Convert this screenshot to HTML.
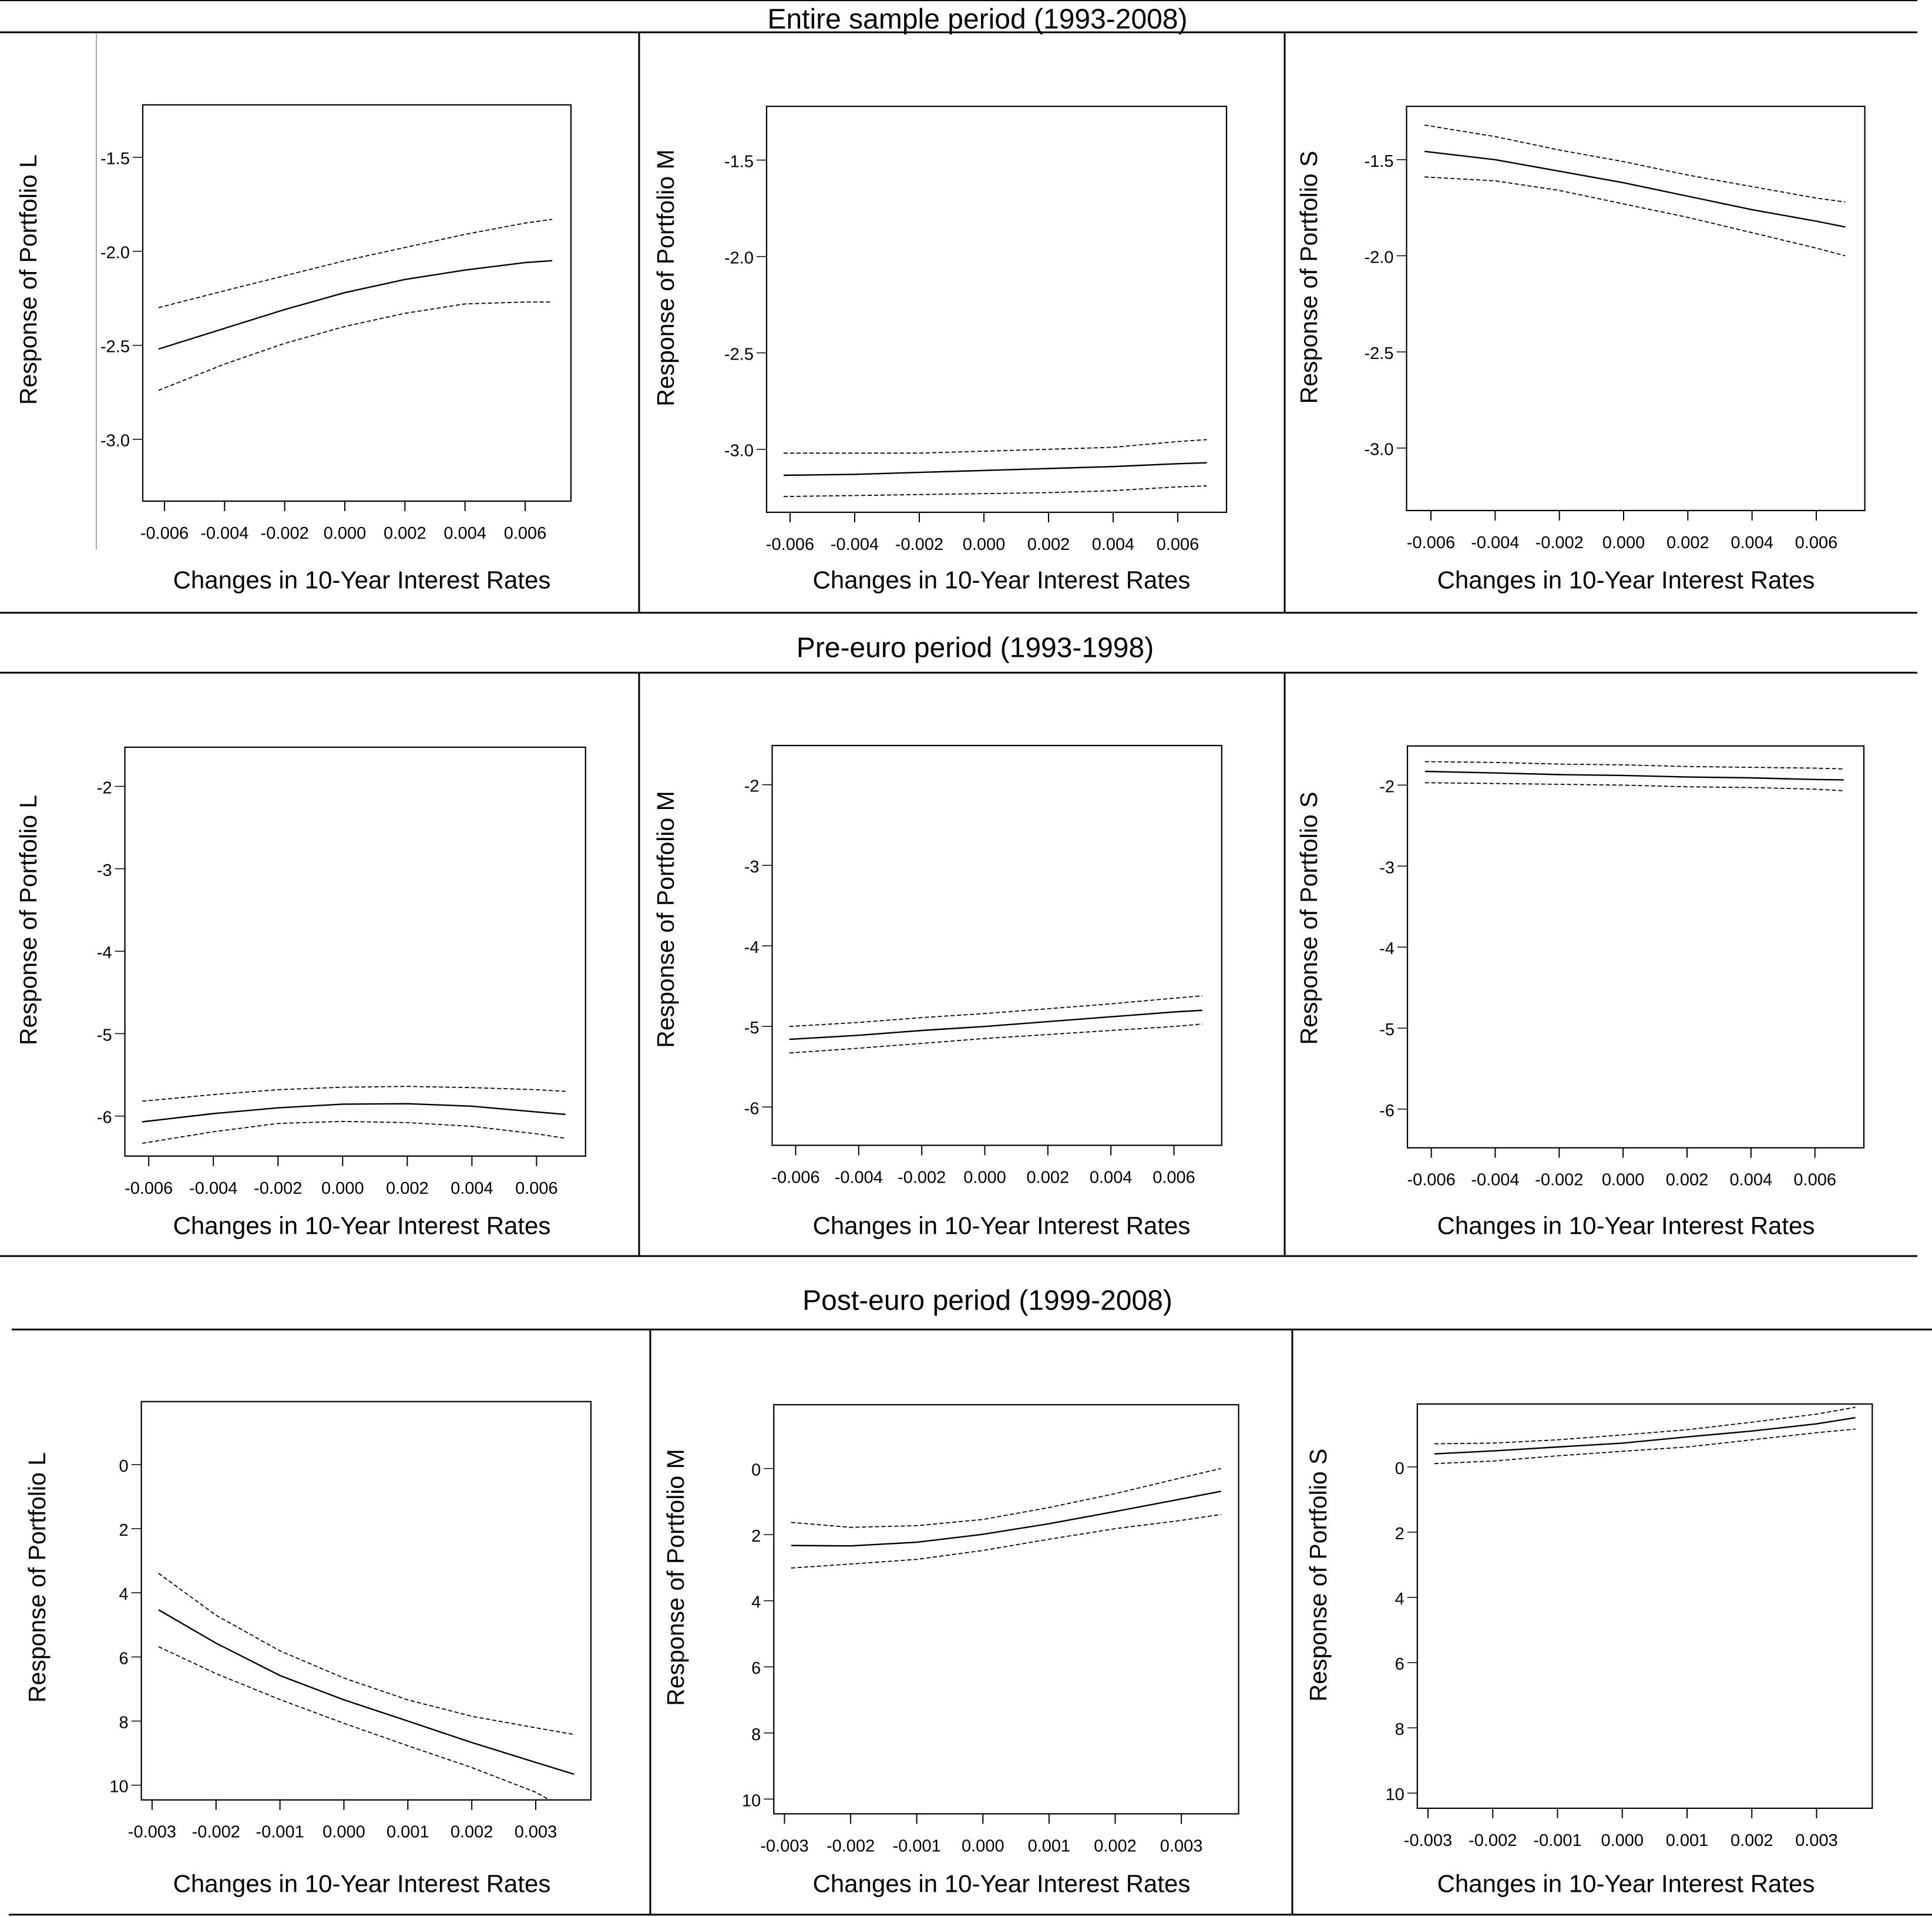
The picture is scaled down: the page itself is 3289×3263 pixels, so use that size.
<!DOCTYPE html>
<html><head><meta charset="utf-8"><style>
html,body{margin:0;padding:0;background:#fff}
svg{display:block;font-family:"Liberation Sans",Arial,sans-serif}
</style></head><body>
<svg id="fig" width="3289" height="3263" viewBox="0 0 3289 3263" xmlns="http://www.w3.org/2000/svg">
<rect width="3289" height="3263" fill="#fff"/>
<g stroke="#000" fill="none">
<line x1="0" y1="1" x2="3264" y2="1" stroke-width="2"/>
<line x1="0" y1="55" x2="3264" y2="55" stroke-width="3"/>
<line x1="1088" y1="55" x2="1088" y2="1043" stroke-width="3"/>
<line x1="2187" y1="55" x2="2187" y2="1043" stroke-width="3"/>
<line x1="0" y1="1043" x2="3264" y2="1043" stroke-width="3"/>
<line x1="0" y1="1145" x2="3264" y2="1145" stroke-width="3"/>
<line x1="1088" y1="1145" x2="1088" y2="2138" stroke-width="3"/>
<line x1="2187" y1="1145" x2="2187" y2="2138" stroke-width="3"/>
<line x1="0" y1="2138" x2="3264" y2="2138" stroke-width="3"/>
<line x1="20" y1="2263" x2="3289" y2="2263" stroke-width="3"/>
<line x1="1107" y1="2263" x2="1107" y2="3259" stroke-width="3"/>
<line x1="2200" y1="2263" x2="2200" y2="3259" stroke-width="3"/>
<line x1="15" y1="3259" x2="3289" y2="3259" stroke-width="3"/>
<line x1="164" y1="57" x2="164" y2="935" stroke="#888" stroke-width="1.5"/>
</g>
<text x="1664" y="33" font-size="48" text-anchor="middle" dominant-baseline="central">Entire sample period (1993-2008)</text>
<text x="1660" y="1103" font-size="48" text-anchor="middle" dominant-baseline="central">Pre-euro period (1993-1998)</text>
<text x="1681" y="2214" font-size="48" text-anchor="middle" dominant-baseline="central">Post-euro period (1999-2008)</text>
<g id="panels"></g>
</svg>
<script>
// x values
const xRow12 = [-0.0062,-0.004,-0.002,0,0.002,0.004,0.006,0.0069];
const xRow3 = [-0.0029,-0.002,-0.001,0,0.001,0.002,0.003,0.0036];
const xTicks12 = [-0.006,-0.004,-0.002,0,0.002,0.004,0.006];
const xTicks3 = [-0.003,-0.002,-0.001,0,0.001,0.002,0.003];
const yTicksRow1 = [-1.5,-2.0,-2.5,-3.0];
const yTicksRow2 = [-2,-3,-4,-5,-6];
const yTicksRow3 = [0,2,4,6,8,10];
// series: entire period
const aMid = [-2.52,-2.41,-2.31,-2.22,-2.15,-2.10,-2.06,-2.05];
const aUp  = [-2.30,-2.21,-2.13,-2.05,-1.98,-1.91,-1.85,-1.83];
const aLo  = [-2.74,-2.60,-2.49,-2.40,-2.33,-2.28,-2.27,-2.27];
const bMid = [-3.135,-3.13,-3.12,-3.11,-3.10,-3.09,-3.075,-3.07];
const bUp  = [-3.02,-3.02,-3.02,-3.01,-3.00,-2.99,-2.96,-2.95];
const bLo  = [-3.245,-3.24,-3.235,-3.23,-3.225,-3.215,-3.195,-3.19];
const cMid = [-1.457,-1.50,-1.56,-1.62,-1.69,-1.76,-1.82,-1.85];
const cUp  = [-1.32,-1.38,-1.45,-1.51,-1.58,-1.64,-1.70,-1.72];
const cLo  = [-1.59,-1.61,-1.66,-1.73,-1.80,-1.88,-1.96,-2.00];
// pre-euro
const dMid = [-6.07,-5.97,-5.90,-5.855,-5.85,-5.88,-5.95,-5.98];
const dUp  = [-5.82,-5.74,-5.68,-5.65,-5.64,-5.655,-5.68,-5.70];
const dLo  = [-6.33,-6.19,-6.09,-6.065,-6.08,-6.125,-6.215,-6.27];
const eMid = [-5.16,-5.11,-5.05,-5.00,-4.94,-4.88,-4.82,-4.80];
const eUp  = [-5.00,-4.95,-4.89,-4.84,-4.78,-4.72,-4.65,-4.62];
const eLo  = [-5.33,-5.27,-5.21,-5.15,-5.10,-5.05,-5.00,-4.97];
const fMid = [-1.83,-1.85,-1.87,-1.88,-1.90,-1.91,-1.93,-1.935];
const fUp  = [-1.71,-1.72,-1.74,-1.75,-1.77,-1.78,-1.79,-1.80];
const fLo  = [-1.97,-1.98,-1.99,-2.00,-2.02,-2.03,-2.05,-2.07];
// post-euro
const gMid = [4.53,5.57,6.58,7.34,8.0,8.67,9.29,9.66];
const gUp  = [3.39,4.7,5.81,6.66,7.34,7.85,8.21,8.42];
const gLo  = [5.68,6.52,7.33,8.07,8.77,9.45,10.22,10.9];
const hMid = [2.33,2.34,2.23,1.99,1.67,1.30,0.92,0.69];
const hUp  = [1.63,1.78,1.73,1.54,1.18,0.76,0.28,0.0];
const hLo  = [3.01,2.89,2.75,2.48,2.14,1.82,1.57,1.39];
const iMid = [-0.40,-0.49,-0.61,-0.73,-0.92,-1.10,-1.32,-1.51];
const iUp  = [-0.71,-0.73,-0.83,-0.98,-1.14,-1.37,-1.62,-1.83];
const iLo  = [-0.10,-0.18,-0.34,-0.48,-0.61,-0.83,-1.05,-1.16];

const NS = "http://www.w3.org/2000/svg";
const root = document.getElementById('panels');
function mk(tag, attrs, parent){const e=document.createElementNS(NS,tag);for(const k in attrs)e.setAttribute(k,attrs[k]);parent.appendChild(e);return e;}

const panels = [
 {id:'a',label:'L',box:[243,178.5,972,853],xr:[-0.006,280,0.006,894],yr:[-1.5,267.7,-3.0,747.7],xs:xRow12,xt:xTicks12,yt:yTicksRow1,yd:1,s:[aMid,aUp,aLo],yl:[48,476],xl:[616,987]},
 {id:'b',label:'M',box:[1305,181,2088,872],xr:[-0.006,1345,0.006,2005],yr:[-1.5,272.5,-3.0,764.7],xs:xRow12,xt:xTicks12,yt:yTicksRow1,yd:1,s:[bMid,bUp,bLo],yl:[1133,473],xl:[1705,987]},
 {id:'c',label:'S',box:[2394.5,181,3174.6,869],xr:[-0.006,2436,0.006,3092],yr:[-1.5,271.8,-3.0,762.6],xs:xRow12,xt:xTicks12,yt:yTicksRow1,yd:1,s:[cMid,cUp,cLo],yl:[2228,472],xl:[2768,987]},
 {id:'d',label:'L',box:[212.6,1271.9,996.8,1967.8],xr:[-0.006,253.2,0.006,913.4],yr:[-2,1338.5,-6,1899.7],xs:xRow12,xt:xTicks12,yt:yTicksRow2,yd:0,s:[dMid,dUp,dLo],yl:[48,1566],xl:[616,2086]},
 {id:'e',label:'M',box:[1314.5,1269,2079.8,1949.5],xr:[-0.006,1354.5,0.006,1998.5],yr:[-2,1335.7,-6,1884.3],xs:xRow12,xt:xTicks12,yt:yTicksRow2,yd:0,s:[eMid,eUp,eLo],yl:[1133,1565],xl:[1705,2086]},
 {id:'f',label:'S',box:[2396,1269.7,3173,1953.7],xr:[-0.006,2436.6,0.006,3089.7],yr:[-2,1336.4,-6,1887.8],xs:xRow12,xt:xTicks12,yt:yTicksRow2,yd:0,s:[fMid,fUp,fLo],yl:[2228,1563],xl:[2768,2086]},
 {id:'g',label:'L',box:[240.6,2385.7,1006,3063.7],xr:[-0.003,258.9,0.003,912],yr:[0,2492.9,10,3038.6],xs:xRow3,xt:xTicks3,yt:yTicksRow3,yd:0,s:[gMid,gUp,gLo],yl:[63,2685],xl:[616,3206]},
 {id:'h',label:'M',box:[1317.3,2391,2108.6,3087.4],xr:[-0.003,1335.5,0.003,2011.1],yr:[0,2499.6,10,3062.3],xs:xRow3,xt:xTicks3,yt:yTicksRow3,yd:0,s:[hMid,hUp,hLo],yl:[1150,2685],xl:[1705,3206]},
 {id:'i',label:'S',box:[2412.8,2389.8,3187.3,3077.9],xr:[-0.003,2431,0.003,3092.5],yr:[0,2496.9,10,3052.1],xs:xRow3,xt:xTicks3,yt:yTicksRow3,yd:0,s:[iMid,iUp,iLo],yl:[2244,2681],xl:[2768,3206]}
];

panels.forEach(p=>{
  const [x0,y0,x1,y1]=p.box;
  const sx=v=>p.xr[1]+(v-p.xr[0])*(p.xr[3]-p.xr[1])/(p.xr[2]-p.xr[0]);
  const sy=v=>p.yr[1]+(v-p.yr[0])*(p.yr[3]-p.yr[1])/(p.yr[2]-p.yr[0]);
  const g=mk('g',{},root);
  
  
  const cp=mk('clipPath',{id:'clip-'+p.id},g);
  mk('rect',{x:x0,y:y0,width:x1-x0,height:y1-y0},cp);
  const box=mk('rect',{x:x0,y:y0,width:x1-x0,height:y1-y0,fill:'none',stroke:'#000','stroke-width':2.2},g);
  
  
  p.xt.forEach(t=>{
    const X=sx(t);
    const tk=mk('line',{x1:X,y1:y1,x2:X,y2:y1+17,stroke:'#000','stroke-width':2},g);
    
    
    const tx=mk('text',{x:X,y:y1+55,'font-size':29,'text-anchor':'middle','dominant-baseline':'central'},g);
    
    
    tx.textContent=t.toFixed(3);
  });
  p.yt.forEach(t=>{
    const Y=sy(t);
    const tk=mk('line',{x1:x0-17,y1:Y,x2:x0,y2:Y,stroke:'#000','stroke-width':1.5},g);
    
    
    const tx=mk('text',{x:x0-22,y:Y+3,'font-size':29,'text-anchor':'end','dominant-baseline':'central'},g);
    
    
    tx.textContent=t.toFixed(p.yd);
  });
  const xt=mk('text',{x:p.xl[0],y:p.xl[1],'font-size':42,'text-anchor':'middle','dominant-baseline':'central'},g);
  
  
  xt.textContent='Changes in 10-Year Interest Rates';
  const yt=mk('text',{x:p.yl[0],y:p.yl[1],'font-size':41,'text-anchor':'middle','dominant-baseline':'central',transform:'rotate(-90 '+p.yl[0]+' '+p.yl[1]+')'},g);
  
  
  yt.textContent='Response of Portfolio '+p.label;
  const names=['estimate-line','upper-band','lower-band'];
  p.s.forEach((arr,k)=>{
    const d=arr.map((v,i)=>(i?'L':'M')+sx(p.xs[i]).toFixed(1)+' '+sy(v).toFixed(1)).join(' ');
    const path=mk('path',{d:d,fill:'none',stroke:'#000','stroke-width':k?1.8:2.4,'clip-path':'url(#clip-'+p.id+')'},g);
    if(k) path.setAttribute('stroke-dasharray','7 4');
    
    
  });
});
</script>
</body></html>
